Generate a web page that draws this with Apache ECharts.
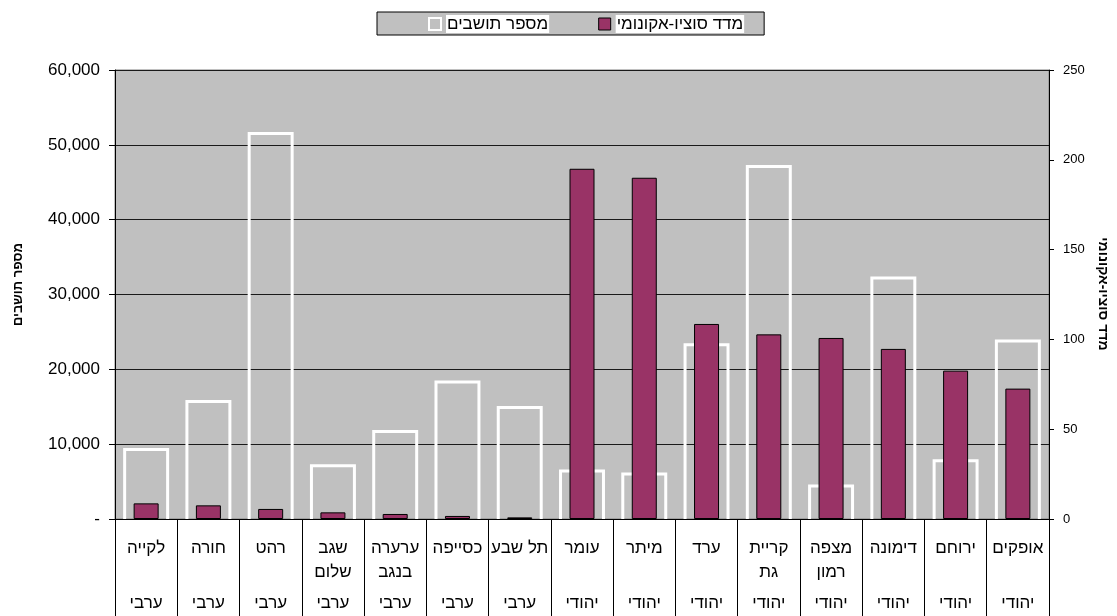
<!DOCTYPE html>
<html>
<head>
<meta charset="utf-8">
<script src="https://cdn.jsdelivr.net/npm/echarts@6/dist/echarts.min.js"></script>
<style>
html,body{margin:0;padding:0;background:#fff;}
#chart{width:1117px;height:616px;}
</style>
</head>
<body>
<div id="chart"></div>
<script>
// ---- data ----
var categories = ['לקייה','חורה','רהט','שגב\nשלום','ערערה\nבנגב','כסייפה','תל שבע','עומר','מיתר','ערד','קריית\nגת','מצפה\nרמון','דימונה','ירוחם','אופקים'];
var sectorLabels = ['ערבי','ערבי','ערבי','ערבי','ערבי','ערבי','ערבי','יהודי','יהודי','יהודי','יהודי','יהודי','יהודי','יהודי','יהודי'];
var population = [9300, 15700, 51500, 7100, 11700, 18300, 14900, 6400, 6000, 23300, 47100, 4400, 32200, 7800, 23800];
var socioIndex = [8.7, 7.6, 5.6, 3.7, 2.8, 1.7, 0.9, 195, 190, 108.6, 102.8, 100.8, 94.7, 82.6, 72.6];
var leftTicks = {min: 0, max: 60000, interval: 10000};
var rightTicks = {min: 0, max: 250, interval: 50};
var popName = 'מספר תושבים';
var idxName = 'מדד סוציו-אקונומי';

var FONT = "'Liberation Sans', Arial, sans-serif";
var chart = echarts.init(document.getElementById('chart'), null, {renderer: 'canvas'});

var popData = population.map(function (v, i) { return [i, v]; });

var option = {
  backgroundColor: '#ffffff',
  animation: false,
  textStyle: {fontFamily: FONT},
  legend: {
    top: 12,
    left: 377,
    padding: [3, 20, 2, 51],
    itemGap: 49,
    itemWidth: 12,
    itemHeight: 12,
    backgroundColor: '#c0c0c0',
    borderColor: '#000',
    borderWidth: 1,
    textStyle: {fontFamily: FONT, fontSize: 17, color: '#000', backgroundColor: '#fff', padding: [1, 1, 0, 1]},
    data: [
      {name: popName, icon: 'rect', itemStyle: {color: '#c0c0c0', borderColor: '#fff', borderWidth: 2}},
      {name: idxName, icon: 'rect', itemStyle: {color: '#993366', borderColor: '#000', borderWidth: 1}}
    ]
  },
  grid: {
    left: 115, right: 68, top: 70, bottom: 97,
    show: true, backgroundColor: '#c0c0c0', borderColor: '#808080', borderWidth: 1
  },
  graphic: [{
    type: 'text',
    x: 1103,
    y: 294,
    rotation: -Math.PI / 2,
    style: {
      text: idxName,
      font: 'bold 14px ' + FONT,
      fill: '#000',
      textAlign: 'center',
      textVerticalAlign: 'middle'
    }
  }],
  xAxis: [{
    type: 'category',
    data: categories,
    boundaryGap: true,
    z: 5,
    axisLine: {show: true, lineStyle: {color: '#000', width: 1}},
    axisTick: {show: true, length: 97, interval: 0, lineStyle: {color: '#000', width: 1}},
    axisLabel: {
      interval: 0,
      margin: 17,
      formatter: function (value, index) {
        var parts = value.split('\n');
        var l2 = parts[1] || ' ';
        return '{n|' + parts[0] + '}\n{n|' + l2 + '}\n{t|' + sectorLabels[index] + '}';
      },
      rich: {
        n: {fontFamily: FONT, fontSize: 17, lineHeight: 24, color: '#000'},
        t: {fontFamily: FONT, fontSize: 17, lineHeight: 38, color: '#000'}
      }
    }
  }],
  yAxis: [{
    type: 'value',
    position: 'left',
    min: leftTicks.min, max: leftTicks.max, interval: leftTicks.interval,
    name: popName,
    nameLocation: 'middle',
    nameRotate: 90,
    nameGap: 90,
    nameMoveOverlap: false,
    nameTextStyle: {fontFamily: FONT, fontSize: 13, fontWeight: 'bold', color: '#000', padding: [0, 0, 0, 20]},
    axisLine: {show: true, lineStyle: {color: '#000'}},
    axisTick: {show: true, length: 6, lineStyle: {color: '#000'}},
    axisLabel: {
      margin: 15,
      fontFamily: FONT, fontSize: 17, color: '#000',
      formatter: function (v) { return v === 0 ? '-' : v.toLocaleString('en-US'); }
    },
    splitLine: {show: true, lineStyle: {color: '#1a1a1a', width: 1}}
  }, {
    type: 'value',
    position: 'right',
    min: rightTicks.min, max: rightTicks.max, interval: rightTicks.interval,
    axisLine: {show: true, lineStyle: {color: '#000'}},
    axisTick: {show: true, length: 5, lineStyle: {color: '#000'}},
    axisLabel: {margin: 14, fontFamily: FONT, fontSize: 13, color: '#000'},
    splitLine: {show: false}
  }],
  series: [{
    name: popName,
    type: 'custom',
    xAxisIndex: 0,
    yAxisIndex: 0,
    z: 2,
    encode: {x: 0, y: 1},
    data: popData,
    renderItem: function (params, api) {
      var top = api.coord([api.value(0), api.value(1)]);
      var base = api.coord([api.value(0), 0]);
      var bw = api.size([1, 0])[0] * 0.69;
      var x0 = top[0] - bw / 2, x1 = top[0] + bw / 2;
      return {
        type: 'polyline',
        shape: {points: [[x0, base[1]], [x0, top[1]], [x1, top[1]], [x1, base[1]]]},
        style: {stroke: '#ffffff', lineWidth: 3, fill: null}
      };
    }
  }, {
    name: idxName,
    type: 'bar',
    xAxisIndex: 0,
    yAxisIndex: 1,
    z: 3,
    barWidth: 25,
    data: socioIndex,
    itemStyle: {color: '#993366', borderColor: '#000', borderWidth: 1}
  }]
};
chart.setOption(option);
</script>
</body>
</html>
